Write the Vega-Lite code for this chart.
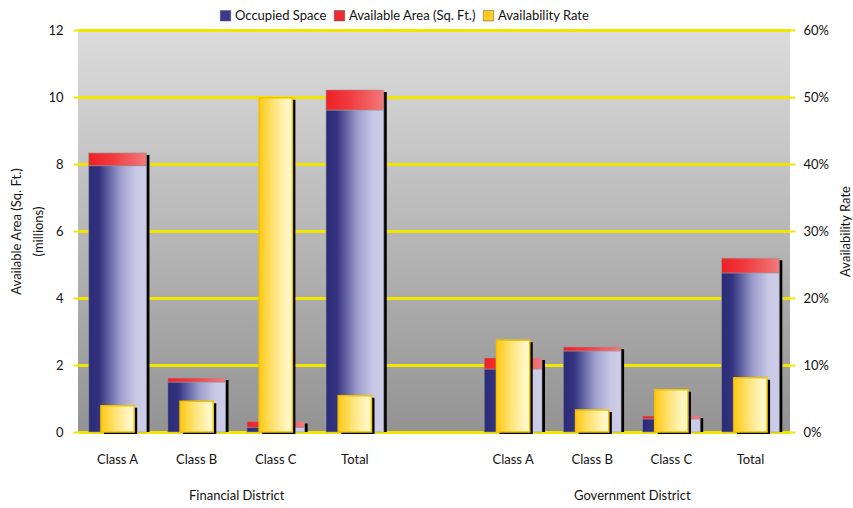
{
  "$schema": "https://vega.github.io/schema/vega-lite/v6.json",
  "width": 712,
  "height": 402,
  "autosize": "none",
  "padding": {"left": 78, "top": 30, "right": 63, "bottom": 76},
  "background": "white",
  "config": {
    "font": "Lato",
    "view": {
      "stroke": null,
      "fill": {"gradient": "linear", "x1": 0, "y1": 0, "x2": 0, "y2": 1,
        "stops": [{"offset": 0, "color": "#dcdcdc"}, {"offset": 1, "color": "#939393"}]}
    },
    "axis": {"labelFont": "Lato", "titleFont": "Lato", "labelColor": "#111", "titleColor": "#111", "labelFontSize": 13, "titleFontSize": 13, "titleFontWeight": "normal"},
    "legend": {"labelFont": "Lato", "labelFontSize": 13, "labelColor": "#111"}
  },
  "datasets": {
    "area": [
      {"slot": "F|Class A", "series": "Occupied Space", "value": 7.95},
      {"slot": "F|Class A", "series": "Available Area (Sq. Ft.)", "value": 0.38},
      {"slot": "F|Class B", "series": "Occupied Space", "value": 1.49},
      {"slot": "F|Class B", "series": "Available Area (Sq. Ft.)", "value": 0.12},
      {"slot": "F|Class C", "series": "Occupied Space", "value": 0.14},
      {"slot": "F|Class C", "series": "Available Area (Sq. Ft.)", "value": 0.17},
      {"slot": "F|Total", "series": "Occupied Space", "value": 9.61},
      {"slot": "F|Total", "series": "Available Area (Sq. Ft.)", "value": 0.6},
      {"slot": "G|Class A", "series": "Occupied Space", "value": 1.88},
      {"slot": "G|Class A", "series": "Available Area (Sq. Ft.)", "value": 0.33},
      {"slot": "G|Class B", "series": "Occupied Space", "value": 2.42},
      {"slot": "G|Class B", "series": "Available Area (Sq. Ft.)", "value": 0.12},
      {"slot": "G|Class C", "series": "Occupied Space", "value": 0.39},
      {"slot": "G|Class C", "series": "Available Area (Sq. Ft.)", "value": 0.09},
      {"slot": "G|Total", "series": "Occupied Space", "value": 4.75},
      {"slot": "G|Total", "series": "Available Area (Sq. Ft.)", "value": 0.44}
    ],
    "rate": [
      {"slot": "F|Class A", "series": "Availability Rate", "rate": 0.039},
      {"slot": "F|Class B", "series": "Availability Rate", "rate": 0.046},
      {"slot": "F|Class C", "series": "Availability Rate", "rate": 0.499},
      {"slot": "F|Total", "series": "Availability Rate", "rate": 0.054},
      {"slot": "G|Class A", "series": "Availability Rate", "rate": 0.137},
      {"slot": "G|Class B", "series": "Availability Rate", "rate": 0.033},
      {"slot": "G|Class C", "series": "Availability Rate", "rate": 0.063},
      {"slot": "G|Total", "series": "Availability Rate", "rate": 0.081}
    ],
    "districts": [
      {"district": "Financial District"},
      {"district": "Government District"}
    ]
  },
  "layer": [
    {
      "encoding": {
        "x": {
          "field": "slot", "type": "nominal",
          "scale": {"domain": ["F|Class A", "F|Class B", "F|Class C", "F|Total", "gap|", "G|Class A", "G|Class B", "G|Class C", "G|Total"], "paddingInner": 0, "paddingOuter": 0},
          "axis": {"orient": "bottom", "title": null, "domain": false, "ticks": false, "labelAngle": 0, "labelPadding": 21, "labelExpr": "split(datum.value, '|')[1]", "grid": false}
        }
      },
      "layer": [
        {
          "data": {"name": "area"},
          "layer": [
            {
              "mark": {"type": "bar", "color": "#000", "width": {"band": 0.73}, "xOffset": 3, "yOffset": 2},
              "encoding": {
                "y": {"aggregate": "sum", "field": "value", "type": "quantitative", "stack": null,
                  "scale": {"domain": [0, 12]},
                  "axis": {"orient": "left", "values": [0, 2, 4, 6, 8, 10, 12], "title": ["Available Area (Sq. Ft.)", "(millions)"], "titlePadding": 2, "titleLineHeight": 22, "domain": false, "tickColor": "#f2e600", "tickSize": 5, "tickWidth": 2, "labelPadding": 10, "grid": true, "gridColor": "#f2e600", "gridWidth": 3, "gridOpacity": 1}
                }
              }
            },
            {
              "mark": {"type": "bar", "width": {"band": 0.73}, "stroke": "#999", "strokeWidth": 1, "strokeOpacity": 0.6},
              "encoding": {
                "y": {"field": "value", "type": "quantitative", "stack": "zero"},
                "detail": {"field": "series", "type": "nominal"},
                "order": {"field": "series", "sort": "descending"},
                "color": {
                  "condition": {"test": "datum.series == 'Occupied Space'", "value": {"gradient": "linear", "x1": 0, "y1": 0, "x2": 1, "y2": 0, "stops": [{"offset": 0, "color": "#2a2a76"}, {"offset": 0.18, "color": "#32327f"}, {"offset": 0.55, "color": "#9e9ece"}, {"offset": 0.82, "color": "#c9c9e6"}, {"offset": 1, "color": "#cdcdea"}]}},
                  "value": {"gradient": "linear", "x1": 0, "y1": 0, "x2": 1, "y2": 0, "stops": [{"offset": 0, "color": "#ee2024"}, {"offset": 0.4, "color": "#f03a3e"}, {"offset": 1, "color": "#f27a7c"}]}
                }
              }
            },
            {
              "mark": {"type": "bar", "opacity": 0, "width": {"band": 0.73}},
              "encoding": {
                "y": {"field": "value", "type": "quantitative", "stack": "zero"},
                "order": {"field": "series", "sort": "descending"},
                "color": {
                  "field": "series", "type": "nominal",
                  "scale": {"domain": ["Occupied Space", "Available Area (Sq. Ft.)", "Availability Rate"], "range": ["#3a3a8a", "#ee2a2e", "#ffcc22"]},
                  "legend": {"orient": "none", "legendX": 141, "legendY": -21, "direction": "horizontal", "title": null, "symbolType": "square", "symbolSize": 110, "symbolStrokeColor": "#555", "symbolStrokeWidth": 0.5, "symbolOpacity": 1, "columnPadding": 6, "labelOffset": 3}
                }
              }
            }
          ]
        },
        {
          "data": {"name": "rate"},
          "layer": [
            {
              "mark": {"type": "bar", "color": "#000", "width": {"band": 0.42}, "xOffset": 3, "yOffset": 2},
              "encoding": {
                "y": {"field": "rate", "type": "quantitative",
                  "scale": {"domain": [0, 0.6]},
                  "axis": {"orient": "right", "values": [0, 0.1, 0.2, 0.3, 0.4, 0.5, 0.6], "format": ".0%", "title": "Availability Rate", "titleAngle": 270, "titlePadding": 24, "domain": false, "tickColor": "#f2e600", "tickSize": 5, "tickWidth": 2, "labelPadding": 8, "grid": false}
                }
              }
            },
            {
              "mark": {"type": "bar", "width": {"band": 0.42}, "stroke": "#f2c200", "strokeWidth": 1.5,
                "color": {"gradient": "linear", "x1": 0, "y1": 0, "x2": 1, "y2": 0, "stops": [{"offset": 0, "color": "#ffc814"}, {"offset": 0.45, "color": "#ffe47a"}, {"offset": 0.85, "color": "#fff6c4"}, {"offset": 1, "color": "#fff8d0"}]}},
              "encoding": {
                "y": {"field": "rate", "type": "quantitative"}
              }
            }
          ]
        }
      ],
      "resolve": {"scale": {"y": "independent"}}
    },
    {
      "data": {"name": "districts"},
      "mark": {"type": "text", "opacity": 0},
      "encoding": {
        "x": {"field": "district", "type": "nominal",
          "scale": {"type": "point", "padding": 0.4},
          "axis": {"orient": "bottom", "offset": 40, "title": null, "domain": false, "ticks": false, "labelAngle": 0, "labelPadding": 17, "grid": false}
        },
        "text": {"value": ""}
      }
    }
  ],
  "resolve": {"scale": {"x": "independent"}}
}
